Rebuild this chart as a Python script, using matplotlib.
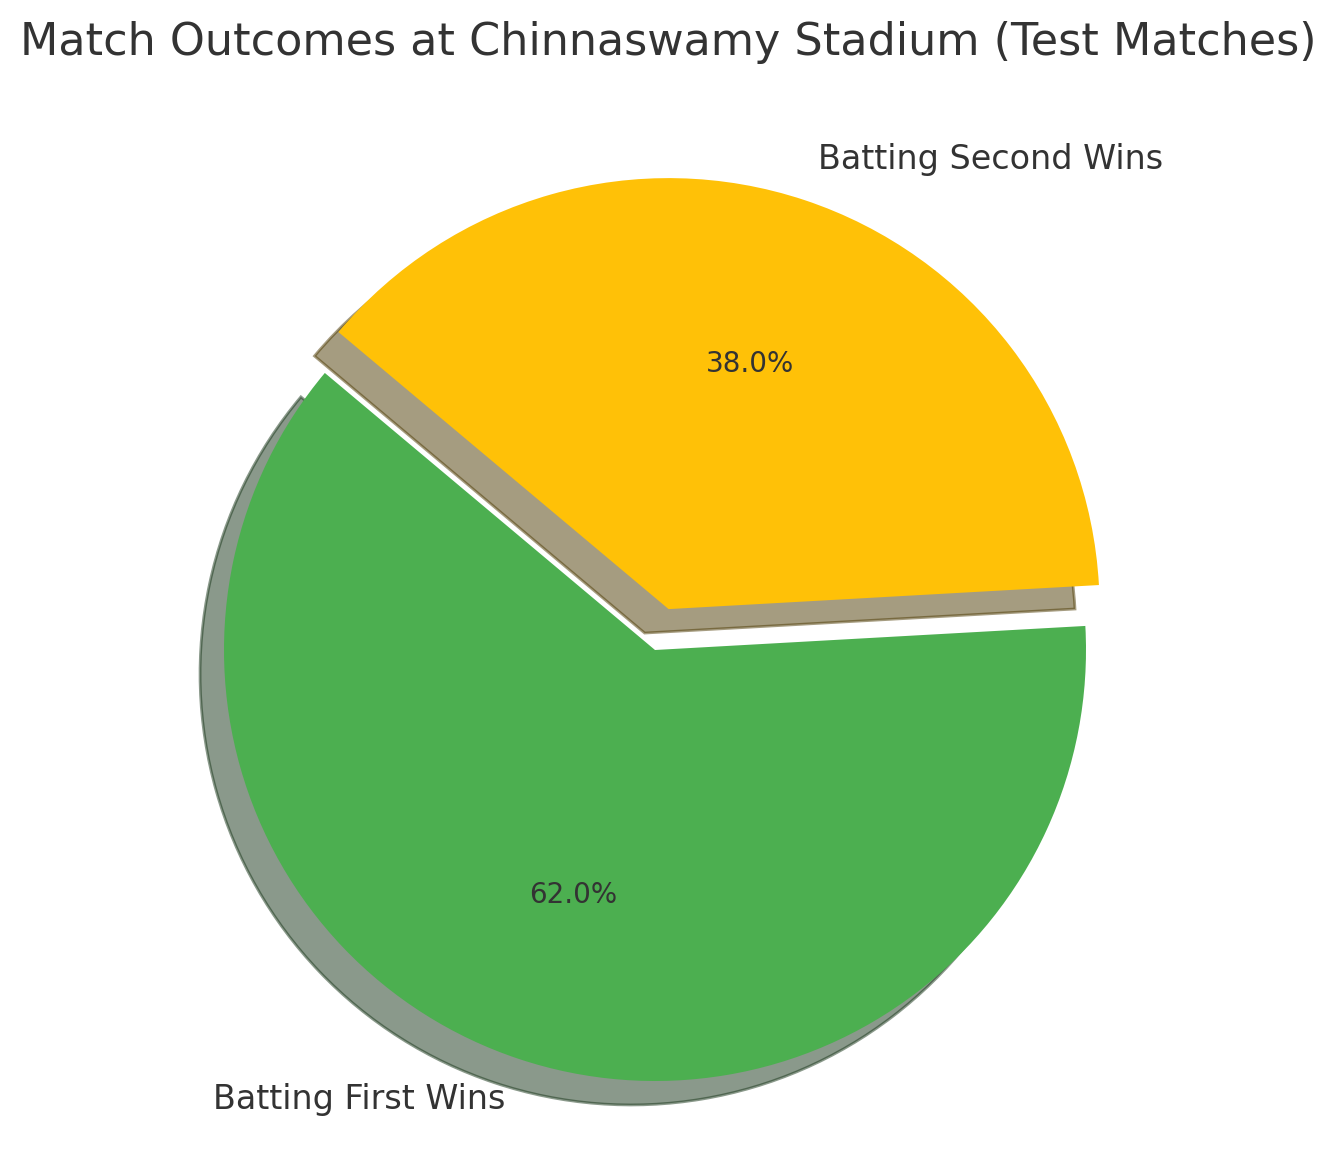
import matplotlib
matplotlib.use("Agg")
import matplotlib.pyplot as plt

# match outcomes at Chinnaswamy (Test)
outcomes = ["Batting First Wins", "Batting Second Wins"]
shares = [62, 38]
colors = ["#4CAF50", "#FFC107"]
explode = (0, 0.1)

plt.rcParams["text.color"] = "#333333"

fig = plt.figure(figsize=(6.68, 5.84), dpi=200)
W, H = 1336, 1168
cx, cy, r = 655, 650, 431
span = 2.5 * r
ax = fig.add_axes([(cx - span / 2) / W, (H - cy - span / 2) / H, span / W, span / H])

ax.pie(shares, labels=outcomes, colors=colors, explode=explode,
       autopct="%1.1f%%", startangle=140, shadow=True,
       textprops={"fontsize": 12})
for t in ax.texts:
    if t.get_text().endswith("%"):
        t.set_fontsize(10)

ax.set_xlim(-1.25, 1.25)
ax.set_ylim(-1.25, 1.25)
ax.set_aspect("equal")

fig.text(0.5, (H - 55) / H, "Match Outcomes at Chinnaswamy Stadium (Test Matches)",
         ha="center", va="baseline", fontsize=16)

fig.savefig("out.png", dpi=200)
